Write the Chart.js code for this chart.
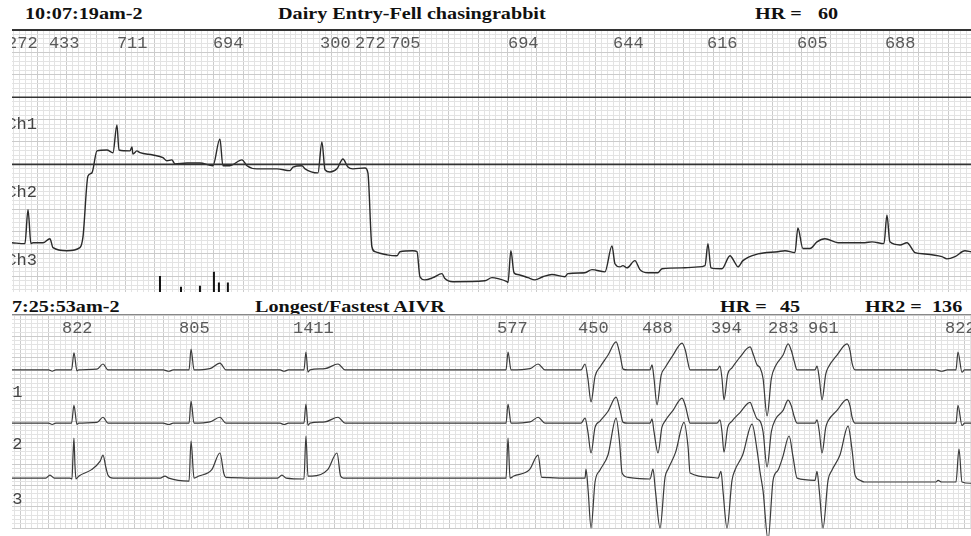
<!DOCTYPE html>
<html lang="en">
<head>
  <meta charset="UTF-8">
  <title>Holter strips</title>
  <script src="https://cdn.jsdelivr.net/npm/chart.js"></script>
  <style>
    body { margin: 0; background: #fff; }
    #page { position: relative; width: 971px; height: 536px; overflow: hidden; background: #fff; }
    .hd { position: absolute; font: bold 16px "Liberation Serif", serif; color: #111; white-space: pre;
          transform-origin: 0 50%; transform: scaleX(1.26); line-height: 18px; }
    canvas { position: absolute; }
    .rule { position: absolute; left: 12px; width: 959px; }
  </style>
</head>
<body>
<div id="page">
  <span class="hd" style="left:25px;top:5px">10:07:19am-2</span>
  <span class="hd" style="left:278px;top:5px">Dairy Entry-Fell chasingrabbit</span>
  <span class="hd" style="left:755px;top:5px">HR =</span>
  <span class="hd" style="left:818px;top:5px">60</span>

  <canvas id="topStrip" width="959" height="262" style="left:12px;top:30px"></canvas>
  <div class="rule" style="top:29px;border-top:2px solid #333"></div>

  <span class="hd" style="left:12px;top:298px">7:25:53am-2</span>
  <span class="hd" style="left:255px;top:298px">Longest/Fastest AIVR</span>
  <span class="hd" style="left:720px;top:298px">HR =</span>
  <span class="hd" style="left:780px;top:298px">45</span>
  <span class="hd" style="left:865px;top:298px">HR2 =</span>
  <span class="hd" style="left:932px;top:298px">136</span>

  <canvas id="botStrip" width="959" height="221" style="left:12px;top:315px"></canvas>
  <div class="rule" style="top:314px;border-top:1px solid #888"></div>
</div>
<script>
  // ---- strip 1 (10:07:19am) : time in ms, amplitude in mV ----
  const topRR = ['272', '433', '711', '694', '300', '272', '705', '694', '644', '616', '605', '688'];
  const topRRTimes = [-6, 279, 742, 1395, 2124, 2362, 2600, 3403, 4118, 4757, 5370, 5968];
  const topChannels = ['Ch1', 'Ch2', 'Ch3'];
  const topChannelLevels = [3.88, 2.38, 0.86];
  // Ch1 and Ch2 are flat (lead off)
  const topFlatLevels = [4.5, 3.0];
  // Ch3 trace, [ms, mV]
  const topCh3 = [
    [28,1.25],[116,1.23],[137,1.99],[157,1.23],[171,1.25],[239,1.25],[286,1.34],[307,1.14],[402,1.07],[490,1.14],
    [511,1.38],[545,2.74],[572,2.81],[606,3.30],[674,3.32],[715,3.26],[742,3.88],[756,3.32],[831,3.30],[844,3.39],
    [851,3.23],[878,3.30],[899,3.26],[987,3.21],[1055,3.15],[1082,3.08],[1116,3.10],[1137,3.01],[1219,3.03],[1307,3.03],
    [1395,2.97],[1443,3.57],[1463,2.97],[1511,2.97],[1593,3.10],[1627,2.97],[1695,2.90],[1831,2.90],[1919,2.86],[1940,2.94],
    [2001,2.97],[2022,2.90],[2110,2.81],[2137,3.50],[2158,2.88],[2192,2.83],[2239,2.90],[2280,3.12],[2314,2.94],[2348,2.90],
    [2430,2.92],[2450,2.81],[2477,1.16],[2498,1.05],[2580,0.98],[2648,0.96],[2668,1.05],[2756,1.07],[2784,1.05],[2804,0.49],
    [2838,0.42],[2893,0.47],[2954,0.56],[2974,0.45],[3029,0.38],[3246,0.40],[3294,0.47],[3335,0.45],[3396,0.38],[3403,0.36],
    [3423,1.07],[3444,0.58],[3471,0.54],[3539,0.47],[3587,0.42],[3641,0.49],[3702,0.54],[3791,0.49],[3811,0.56],[3927,0.58],
    [3975,0.65],[4063,0.60],[4111,1.18],[4131,0.78],[4165,0.71],[4185,0.74],[4213,0.69],[4267,0.85],[4301,0.65],[4356,0.58],
    [4424,0.58],[4451,0.67],[4607,0.69],[4696,0.71],[4744,0.74],[4764,1.23],[4784,0.69],[4859,0.67],[4914,0.96],[4948,0.80],
    [4968,0.71],[5002,0.85],[5104,1.00],[5240,1.05],[5288,1.07],[5356,1.03],[5376,1.58],[5410,1.12],[5458,1.12],[5506,1.27],
    [5560,1.34],[5649,1.25],[5744,1.25],[5832,1.25],[5880,1.27],[5962,1.23],[5982,1.87],[6002,1.27],[6071,1.20],[6118,1.25],
    [6173,1.03],[6241,1.00],[6356,0.94],[6390,0.89],[6445,0.94],[6513,1.07],[6554,1.05]
  ];
  // event marks at the bottom of strip 1
  const topMarkTimes = [1035, 1178, 1307, 1402, 1436, 1497];
  const topMarkHeights = [0.51, 0.27, 0.29, 0.60, 0.36, 0.36];

  // ---- strip 2 (7:25:53am) ----
  const botRR = ['822', '805', '1411', '577', '450', '488', '394', '283', '961', '822'];
  const botRRTimes = [493, 1311, 2107, 3533, 4099, 4546, 5029, 5427, 5706, 6664];
  const botChannels = ['Ch1', 'Ch2', 'Ch3'];
  const botChannelLevels = [3.19, 1.95, 0.68];
  // amplitude relative to each lane's baseline, [ms, mV]
  const botCh1 = [
    [144,0],[400,0],[425,-0.03],[450,0],[560,0],[577,0.40],[598,-0.02],[610,0],[738,0.02],[780,0.14],[815,0],
    [1200,0],[1240,-0.03],[1270,0],[1381,0],[1395,0.49],[1416,0],[1527,0.03],[1597,0.16],[1639,0],
    [2017,0],[2045,-0.03],[2075,0],[2184,0],[2198,0.42],[2212,-0.05],[2226,0],[2331,0.03],[2422,0.14],[2471,0],
    [3554,0],[3596,0],[3610,0.42],[3631,0],[3764,0.03],[3820,0.14],[3868,0],
    [4120,0],[4148,0.14],[4168,-0.2],[4190,-0.75],[4218,-0.15],[4253,0.07],[4309,0.35],[4365,0.66],[4393,0.35],[4414,0.02],[4448,0],
    [4602,0],[4616,0.12],[4630,-0.2],[4651,-0.82],[4680,-0.12],[4707,0.05],[4763,0.35],[4826,0.63],[4850,0.45],[4868,0.16],[4882,0],
    [5070,0],[5091,0.09],[5105,-0.2],[5119,-0.70],[5145,-0.1],[5175,0.05],[5231,0.3],[5301,0.54],[5325,0.35],[5350,0.12],
    [5371,0.05],[5392,-0.2],[5420,-1.08],[5450,-0.2],[5480,0.1],[5532,0.35],[5567,0.61],[5590,0.45],[5610,0.2],[5630,0],
    [5755,0],[5769,0.09],[5785,-0.2],[5804,-0.70],[5830,-0.1],[5846,0.05],[5909,0.35],[5979,0.61],[6000,0.45],[6014,0.16],[6035,0],
    [6600,0],[6640,-0.03],[6680,0],[6740,0],[6754,0.42],[6782,-0.05],[6800,0],[6845,0]
  ];
  const botCh2 = [
    [144,0],[400,0],[425,-0.03],[450,0],[560,0],[577,0.42],[598,-0.03],[610,0],[738,0.02],[780,0.14],[815,0],
    [1200,0],[1240,-0.03],[1270,0],[1381,0],[1395,0.52],[1416,0],[1527,0.03],[1597,0.14],[1639,0],
    [2017,0],[2045,-0.03],[2075,0],[2184,0],[2198,0.45],[2212,-0.05],[2226,0],[2331,0.03],[2422,0.14],[2471,0],
    [3554,0],[3596,0],[3610,0.45],[3631,0],[3764,0.03],[3820,0.14],[3868,0],
    [4120,0],[4148,0.12],[4168,-0.2],[4190,-0.70],[4218,-0.1],[4253,0.05],[4309,0.28],[4365,0.61],[4393,0.3],[4414,0.02],[4448,0],
    [4602,0],[4616,0.1],[4630,-0.2],[4658,-0.70],[4685,-0.1],[4707,0.05],[4763,0.3],[4826,0.59],[4850,0.4],[4868,0.14],[4882,0],
    [5070,0],[5091,0.08],[5105,-0.2],[5119,-0.68],[5145,-0.1],[5175,0.05],[5231,0.25],[5301,0.49],[5325,0.3],[5350,0.1],
    [5371,0.05],[5392,-0.2],[5420,-1.03],[5450,-0.2],[5480,0.1],[5532,0.3],[5567,0.54],[5590,0.4],[5610,0.15],[5630,0],
    [5755,0],[5769,0.08],[5785,-0.2],[5804,-0.70],[5830,-0.1],[5846,0.05],[5909,0.3],[5979,0.56],[6000,0.4],[6014,0.14],[6035,0],
    [6600,0],[6740,0],[6754,0.42],[6782,-0.05],[6800,0],[6845,0]
  ];
  const botCh3 = [
    [144,0],[380,0],[409,0.07],[440,0],[549,0],[563,-0.02],[570,0.5],[577,0.94],[584,0.3],[591,-0.02],[598,0],[612,0.05],
    [700,0.2],[760,0.4],[780,0.54],[800,0.25],[815,0.07],[850,0],[1180,0],[1213,0.05],[1240,0],[1381,-0.07],[1395,0.87],
    [1416,0],[1450,0.05],[1540,0.2],[1597,0.59],[1625,0.1],[1639,0.02],[2000,0],[2030,0.07],[2060,0],[2184,-0.02],[2198,0.99],
    [2212,0.05],[2240,0.05],[2350,0.2],[2415,0.59],[2440,0.05],[2460,0],[3596,0],[3610,0.94],[3624,0],[3650,0.05],[3760,0.2],
    [3820,0.54],[3845,0.02],[4148,0],[4155,0.21],[4170,-0.3],[4190,-1.17],[4218,-0.09],[4253,0.19],[4309,0.55],[4365,1.41],
    [4390,0.82],[4407,0.12],[4448,0.02],[4602,-0.02],[4623,0.21],[4640,-0.3],[4672,-1.17],[4707,0.02],[4728,0.21],[4780,0.6],
    [4840,1.31],[4868,0.73],[4882,0.12],[5035,0.02],[5077,0],[5098,0.16],[5112,-0.3],[5140,-1.17],[5175,-0.05],[5196,0.19],
    [5250,0.55],[5315,1.27],[5350,0.66],[5371,0.14],[5392,-0.3],[5427,-1.45],[5462,-0.05],[5497,0.19],[5530,0.5],[5574,0.99],
    [5602,0.49],[5630,0],[5755,-0.05],[5769,0.16],[5785,-0.3],[5811,-1.17],[5846,-0.05],[5874,0.19],[5930,0.55],[5986,1.22],
    [6014,0.66],[6035,0.07],[6070,-0.05],[6100,-0.09],[6600,-0.09],[6615,-0.05],[6640,-0.09],[6740,-0.09],[6761,0.68],
    [6782,-0.09],[6845,-0.12]
  ];
  const botLaneBase = [3.71, 2.46, 1.17];

  const TRACE = '#2a2a2a';
  const MAJOR = '#cbcbcb';
  const MINOR = '#e3e3e3';

  function paperScales(xmin, xmax, ymin, ymax) {
    const isMajorX = v => Math.abs(v / 200 - Math.round(v / 200)) < 1e-6;
    const isMajorY = v => Math.abs(v * 2 - Math.round(v * 2)) < 1e-6;
    const axis = (min, max, step, isMajor) => ({
      type: 'linear', min, max,
      border: { display: false },
      ticks: { display: false, stepSize: step, maxTicksLimit: 1000, autoSkip: false, includeBounds: false },
      grid: {
        drawTicks: false,
        color: c => isMajor(c.tick.value) ? MAJOR : MINOR,
        borderDash: c => isMajor(c.tick.value) ? [] : [1, 2],
        lineWidth: 1
      },
      afterFit: s => { if (s.isHorizontal()) s.height = 0; else s.width = 0; }
    });
    return { x: axis(xmin, xmax, 40, isMajorX), y: axis(ymin, ymax, 0.1, isMajorY) };
  }

  function textPlugin(items) {
    return {
      id: 'stripText',
      afterDatasetsDraw(chart) {
        const {ctx, scales: {x, y}} = chart;
        ctx.save();
        ctx.textBaseline = 'middle';
        ctx.textAlign = 'left';
        items.forEach(it => {
          ctx.font = it.font;
          ctx.fillStyle = it.color;
          ctx.fillText(it.text, x.getPixelForValue(it.t), y.getPixelForValue(it.v));
        });
        ctx.restore();
      }
    };
  }

  const pts = arr => arr.map(p => ({x: p[0], y: p[1]}));
  const lane = (arr, base) => arr.map(p => ({x: p[0], y: p[1] + base}));
  const MONO = '17px "Liberation Mono", monospace';

  // strip 1
  const topItems = [];
  topRR.forEach((s, i) => topItems.push({text: s, t: topRRTimes[i], v: 5.69, font: MONO, color: '#5a5a5a'}));
  topChannels.forEach((s, i) => topItems.push({text: s, t: -10, v: topChannelLevels[i], font: MONO, color: '#444'}));

  const markData = [];
  topMarkTimes.forEach((t, i) => {
    markData.push({x: t, y: 0}, {x: t, y: topMarkHeights[i]}, {x: t, y: null});
  });

  const xTop = [28, 6554];
  new Chart(document.getElementById('topStrip'), {
    type: 'line',
    data: {
      datasets: [
        { data: [{x: xTop[0], y: topFlatLevels[0]}, {x: xTop[1], y: topFlatLevels[0]}], borderColor: '#333', borderWidth: 1.6 },
        { data: [{x: xTop[0], y: topFlatLevels[1]}, {x: xTop[1], y: topFlatLevels[1]}], borderColor: '#333', borderWidth: 1.6 },
        { data: pts(topCh3), borderColor: TRACE, borderWidth: 1.4, cubicInterpolationMode: 'monotone' },
        { data: markData, borderColor: '#111', borderWidth: 2, spanGaps: false }
      ]
    },
    options: {
      responsive: false, animation: false, events: [],
      layout: { padding: 0 },
      elements: { point: { radius: 0 } },
      plugins: { legend: { display: false }, tooltip: { enabled: false } },
      scales: paperScales(xTop[0], xTop[1], 0.15, 6.0)
    },
    plugins: [textPlugin(topItems)]
  });

  // strip 2
  const botItems = [];
  botRR.forEach((s, i) => botItems.push({text: s, t: botRRTimes[i], v: 4.69, font: MONO, color: '#5a5a5a'}));
  botChannels.forEach((s, i) => botItems.push({text: s, t: 4, v: botChannelLevels[i], font: MONO, color: '#444'}));

  const xBot = [144, 6845];
  new Chart(document.getElementById('botStrip'), {
    type: 'line',
    data: {
      datasets: [
        { data: lane(botCh1, botLaneBase[0]), borderColor: '#3a3a3a', borderWidth: 1.2, cubicInterpolationMode: 'monotone' },
        { data: lane(botCh2, botLaneBase[1]), borderColor: '#3a3a3a', borderWidth: 1.2, cubicInterpolationMode: 'monotone' },
        { data: lane(botCh3, botLaneBase[2]), borderColor: '#3a3a3a', borderWidth: 1.2, cubicInterpolationMode: 'monotone', clip: false }
      ]
    },
    options: {
      responsive: false, animation: false, events: [],
      layout: { padding: { bottom: 8 } },
      elements: { point: { radius: 0 } },
      plugins: { legend: { display: false }, tooltip: { enabled: false } },
      scales: paperScales(xBot[0], xBot[1], 0, 5.0)
    },
    plugins: [textPlugin(botItems)]
  });
</script>
</body>
</html>
